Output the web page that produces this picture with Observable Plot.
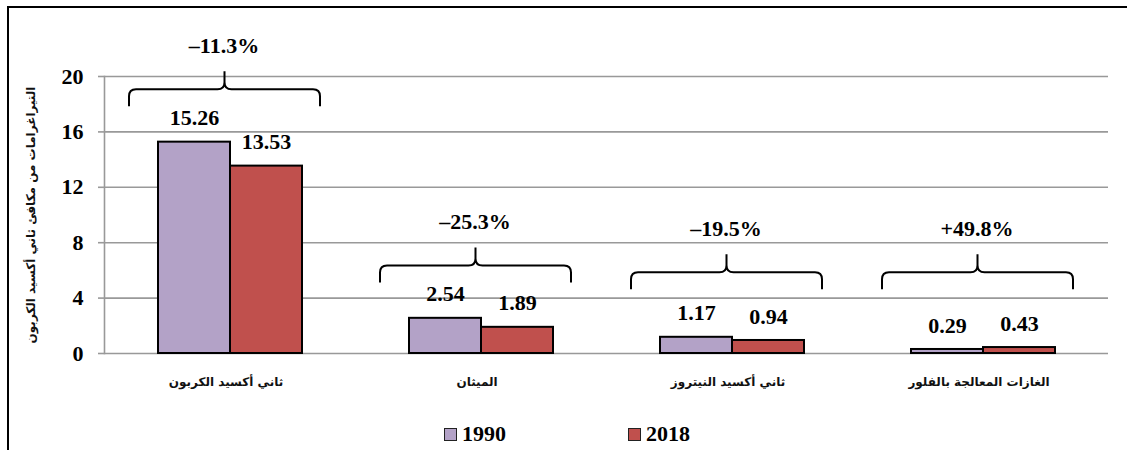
<!DOCTYPE html>
<html><head><meta charset="utf-8">
<script src="https://cdn.jsdelivr.net/npm/d3@7"></script>
<script src="https://cdn.jsdelivr.net/npm/@observablehq/plot@0.6"></script>
<style>
html,body{margin:0;padding:0;background:#fff;}
body{width:1127px;height:450px;position:relative;overflow:hidden;}
#frame{position:absolute;left:7px;top:6px;width:1200px;height:500px;border:2px solid #000;box-sizing:border-box;pointer-events:none;}
#chart{position:absolute;left:0;top:0;}
.leg{position:absolute;top:421px;display:flex;align-items:center;font:bold 22px "Liberation Serif","Times New Roman",serif;color:#000;}
.sw{width:11px;height:11px;border:1.5px solid #222;margin-right:5px;}
</style></head>
<body>
<div id="chart"></div>
<div id="frame"></div>
<div class="leg" style="left:444px"><div class="sw" style="background:#B3A2C7"></div><span>1990</span></div>
<div class="leg" style="left:628px"><div class="sw" style="background:#C0504D"></div><span>2018</span></div>
<script>
const gases = ["ثاني أكسيد الكربون", "الميثان", "ثاني أكسيد النيتروز", "الغازات المعالجة بالفلور"];
const years = ["1990", "2018"];
const v1990 = [15.26, 2.54, 1.17, 0.29];
const v2018 = [13.53, 1.89, 0.94, 0.43];
const changeLabels = ["–11.3%", "–25.3%", "–19.5%", "+49.8%"];
const yTicks = [0, 4, 8, 12, 16, 20];
const yTitle = "التيراغرامات من مكافئ ثاني أكسيد الكربون";
const colors = ["#B3A2C7", "#C0504D"];

const rows = [];
gases.forEach((g, i) => {
  rows.push({gas: g, year: years[0], value: v1990[i]});
  rows.push({gas: g, year: years[1], value: v2018[i]});
});
const braces = gases.map((g, i) => ({
  gas: g,
  level: Math.max(Math.max(v1990[i], v2018[i]) + 2.55, 4.6),
  label: changeLabels[i]
}));

const serif = "Liberation Serif";
const arab = "DejaVu Sans";

function braceRender(index, scales, values, dims) {
  const g = d3.create("svg:g");
  const w = dims && dims.width ? dims.width - (dims.marginLeft || 0) - (dims.marginRight || 0) : 251;
  const x0 = dims && dims.marginLeft ? dims.marginLeft : 0;
  for (const i of index) {
    const cx = x0 + w / 2 - 5;
    const xl = cx - 95.5, xr = cx + 95.5, xm = cx;
    const yEnd = values.y[i], yH = yEnd - 17, yTip = yEnd - 35, r = 7;
    const d = `M${xl},${yEnd}L${xl},${yH + r}Q${xl},${yH} ${xl + r},${yH}L${xm - r},${yH}Q${xm},${yH} ${xm},${yH - r}L${xm},${yTip}` +
      `M${xm},${yH - r}Q${xm},${yH} ${xm + r},${yH}L${xr - r},${yH}Q${xr},${yH} ${xr},${yH + r}L${xr},${yEnd}`;
    g.append("path").attr("d", d).attr("fill", "none").attr("stroke", "#000").attr("stroke-width", 2);
  }
  return g.node();
}

const chart = Plot.plot({
  width: 1127,
  height: 410,
  marginLeft: 103,
  marginRight: 19,
  marginTop: 76,
  marginBottom: 57,
  fx: {domain: gases, padding: 0, label: null},
  x: {domain: years, paddingInner: 0, paddingOuter: 0.743, axis: null},
  y: {domain: [0, 20], label: null},
  color: {domain: years, range: colors},
  style: {background: "transparent"},
  marks: [
    Plot.gridY(yTicks, {stroke: "#999", strokeOpacity: 1, strokeWidth: 1.6}),
    Plot.frame({anchor: "left", stroke: "#999", strokeWidth: 1.6, facet: "super"}),
    Plot.axisY(yTicks, {
      tickSize: 6, tickPadding: 15, stroke: "#999", strokeWidth: 1.6,
      fontSize: 22, fontWeight: "bold", fontFamily: serif, fill: "#000", tickFormat: d => String(d),
      label: null
    }),
    Plot.axisFx({anchor: "bottom", tickSize: 0, tickPadding: 24, dx: -4, fontSize: 12, fontWeight: "bold", fontFamily: arab, fill: "#111", label: null}),
    Plot.barY(rows, {fx: "gas", x: "year", y: "value", fill: "year", stroke: "#000", strokeWidth: 2}),
    Plot.text(rows, {fx: "gas", x: "year", y: "value", text: d => d.value.toFixed(2), dy: -24, fontSize: 22, fontWeight: "bold", fontFamily: serif, fill: "#000"}),
    Plot.dot(braces, {fx: "gas", y: "level", render: braceRender}),
    Plot.text(braces, {fx: "gas", y: "level", text: "label", dy: -61, dx: -6, fontSize: 22, fontWeight: "bold", fontFamily: serif, fill: "#000"}),
    Plot.text([yTitle], {
      facet: "super", frameAnchor: "left", dx: -73, rotate: -90, text: d => d,
      fontSize: 12, fontWeight: "bold", fontFamily: arab, fill: "#111", textAnchor: "middle"
    })
  ]
});
document.getElementById("chart").appendChild(chart);
</script>
</body></html>
